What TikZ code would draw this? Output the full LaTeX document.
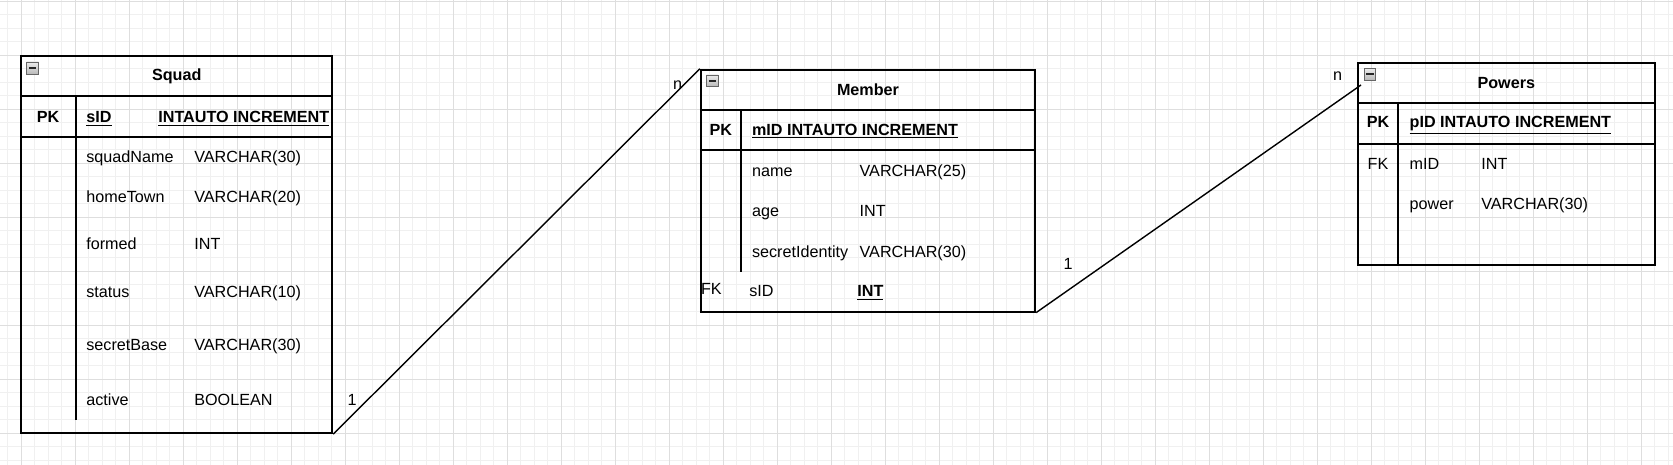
\documentclass[tikz,border=0pt]{standalone}
\usepackage{fontspec}
\setmainfont{Liberation Sans}
\usetikzlibrary{fit}
\definecolor{gridminor}{HTML}{F0F0F0}
\definecolor{gridmajor}{HTML}{DEDEDE}

\begin{document}
\begin{tikzpicture}[x=0.02cm,y=-0.02cm,
  tbl/.style={draw, line width=1pt, inner sep=0pt},
  rule/.style={line width=1pt},
  link/.style={line width=0.8pt},
  fld/.style={anchor=west, inner sep=0pt, text height=6.6pt, text depth=0pt, font=\fontsize{9.2}{11}\selectfont},
  bfld/.style={fld, font=\fontsize{9.2}{11}\selectfont\bfseries},
  key/.style={bfld, anchor=center},
  card/.style={fld, anchor=center},
  icon/.style={draw=gray!80!black, top color=gray!15, bottom color=gray!55, line width=0.4pt},
  minus/.style={line width=1.2pt, gray!30!black}]
\useasboundingbox (0,0) rectangle (1673,465);
\fill[white] (0,0) rectangle (1673,465);
% grid
\foreach \x in {7.8,21.3,...,1673} \draw[gridminor, line width=0.5pt] (\x,0) -- (\x,465);
\foreach \y in {1.3,14.8,...,465} \draw[gridminor, line width=0.5pt] (0,\y) -- (1673,\y);
\foreach \x in {21.3,75.3,...,1673} \draw[gridmajor, line width=0.5pt] (\x,0) -- (\x,465);
\foreach \y in {1.3,55.3,...,465} \draw[gridmajor, line width=0.5pt] (0,\y) -- (1673,\y);

% Squad
\node[tbl, fit={(21,55.7) (332.3,433.3)}] (squad) {};
\draw[rule] (21,96) -- (332.3,96);
\draw[line width=1.6pt] (21,137) -- (332.3,137);
\draw[rule] (75.7,96) -- (75.7,420);
\draw[icon] (26.7,62) rectangle (38.7,74);
\draw[minus] (29,68) -- (36.4,68);
\node[key] (squad-title) at (176.7,75) {Squad};
\node[key] (squad-pk) at (48,116.7) {PK};
\node[bfld] (squad-sid) at (86,116.7) {\underline{sID}};
\node[bfld] (squad-sidtype) at (158,116.7) {\underline{INTAUTO INCREMENT}};
\node[fld] (squad-f1) at (86,156.7) {squadName}; \node[fld] (squad-t1) at (194,156.7) {VARCHAR(30)};
\node[fld] (squad-f2) at (86,196.7) {homeTown}; \node[fld] (squad-t2) at (194,196.7) {VARCHAR(20)};
\node[fld] (squad-f3) at (86,244) {formed}; \node[fld] (squad-t3) at (194,244) {INT};
\node[fld] (squad-f4) at (86,291.7) {status}; \node[fld] (squad-t4) at (194,291.7) {VARCHAR(10)};
\node[fld] (squad-f5) at (86,345) {secretBase}; \node[fld] (squad-t5) at (194,345) {VARCHAR(30)};
\node[fld] (squad-f6) at (86,399.3) {active}; \node[fld] (squad-t6) at (194,399.3) {BOOLEAN};

% Member
\node[tbl, fit={(700.7,69.7) (1035.3,311.7)}] (member) {};
\draw[rule] (700.7,110) -- (1035.3,110);
\draw[rule] (700.7,150) -- (1035.3,150);
\draw[line width=1.4pt] (741,110) -- (741,271.7);
\draw[icon] (706.7,75) rectangle (718.2,86.5);
\draw[minus] (708.9,80.7) -- (716,80.7);
\node[key] (member-title) at (868,89.3) {Member};
\node[key] (member-pk) at (720.8,129.3) {PK};
\node[bfld] (member-mid) at (751.7,129.3) {\underline{mID INTAUTO INCREMENT}};
\node[fld] (member-f1) at (751.7,170.7) {name}; \node[fld] (member-t1) at (859.3,170.7) {VARCHAR(25)};
\node[fld] (member-f2) at (751.7,210.7) {age}; \node[fld] (member-t2) at (859.3,210.7) {INT};
\node[fld] (member-f3) at (751.7,251.7) {secretIdentity}; \node[fld] (member-t3) at (859.3,251.7) {VARCHAR(30)};
\node[fld] (member-fk) at (700.7,288.7) {FK};
\node[fld] (member-sid) at (749,290.7) {sID};
\node[bfld] (member-sidtype) at (857,290.7) {\underline{INT}};

% Powers
\node[tbl, fit={(1357.7,63) (1655,265)}] (powers) {};
\draw[rule] (1357.7,103.3) -- (1655,103.3);
\draw[rule] (1357.7,143.7) -- (1655,143.7);
\draw[rule] (1398.3,103.3) -- (1398.3,265);
\draw[icon] (1364,68.3) rectangle (1375.7,80);
\draw[minus] (1366.2,74.1) -- (1373.5,74.1);
\node[key] (powers-title) at (1506.3,82.3) {Powers};
\node[key] (powers-pk) at (1378,122) {PK};
\node[bfld] (powers-pid) at (1409.3,122) {\underline{pID INTAUTO INCREMENT}};
\node[card] (powers-fk) at (1378,163.3) {FK};
\node[fld] (powers-f1) at (1409.3,163.3) {mID}; \node[fld] (powers-t1) at (1481,163.3) {INT};
\node[fld] (powers-f2) at (1409.3,203.3) {power}; \node[fld] (powers-t2) at (1481,203.3) {VARCHAR(30)};

% links
\coordinate (powers-in) at (1361,85);
\draw[link] (squad.south east) -- (member.north west);
\draw[link] (member.south east) -- (powers-in);
\node[card] (card-squad) at (352,399.5) {1};
\node[card] (card-member-n) at (677.7,84.2) {n};
\node[card] (card-member-1) at (1068,264) {1};
\node[card] (card-powers) at (1337.7,74.4) {n};
\end{tikzpicture}
\end{document}
